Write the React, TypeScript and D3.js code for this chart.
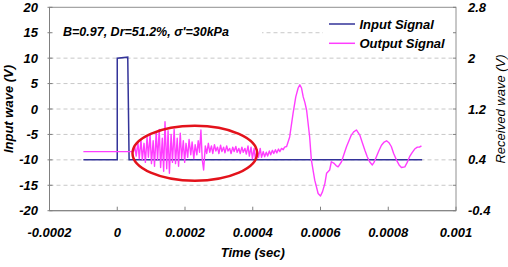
import * as d3 from 'd3';
import { useEffect, useRef } from 'react';

const timeTicks = [-0.0002, 0, 0.0002, 0.0004, 0.0006, 0.0008, 0.001];
const inputTicks = [-20, -15, -10, -5, 0, 5, 10, 15, 20];
const receivedTicks = [-0.4, 0.4, 1.2, 2, 2.8];
const receivedMinorTicks = [0, 0.8, 1.6, 2.4];

// input pulse: [time in microseconds, volts on the left axis]
const inputSamples: [number, number][] = [
  [-100, -10], [0, -10], [0, 10], [31, 10.2], [35, -10], [900, -10]
];

// received signal: [time in microseconds, volts on the right axis]
const outputSamples: [number, number][] = [
  [-100, 0.53], [48, 0.53],
  [52, 0.6], [56, 0.46], [61, 0.68], [65, 0.42], [70, 0.72], [74, 0.4], [79, 0.66], [83, 0.36],
  [88, 0.76], [92, 0.44], [97, 0.8], [101, 0.34], [106, 0.7], [110, 0.3], [115, 0.84], [119, 0.4],
  [124, 0.88], [128, 0.28], [133, 0.74], [137, 0.22], [141, 1.0], [146, 0.26], [150, 0.86],
  [154, 0.19], [159, 0.8], [163, 0.36], [168, 0.88], [172, 0.34], [177, 0.74], [181, 0.3],
  [186, 0.82], [190, 0.42], [195, 0.7], [199, 0.36], [203, 0.66], [208, 0.44], [212, 0.72],
  [217, 0.48], [221, 0.68], [226, 0.42], [230, 0.64], [235, 0.48], [239, 0.7], [243, 0.52],
  [247, 0.87], [251, 0.4], [255, 0.24], [260, 0.62], [264, 0.5], [269, 0.66], [273, 0.52],
  [278, 0.62], [282, 0.5], [287, 0.64], [291, 0.54], [296, 0.6], [300, 0.5], [305, 0.63],
  [309, 0.53], [314, 0.6], [318, 0.51], [323, 0.62], [327, 0.54], [332, 0.58], [336, 0.5],
  [341, 0.6], [345, 0.53], [350, 0.61], [354, 0.52], [359, 0.58], [363, 0.5], [368, 0.6],
  [372, 0.52], [377, 0.58], [381, 0.49], [386, 0.62], [390, 0.46], [395, 0.6], [399, 0.42],
  [404, 0.58], [408, 0.4], [413, 0.56], [417, 0.44], [422, 0.58], [426, 0.44], [431, 0.53],
  [435, 0.45], [440, 0.52], [444, 0.46], [449, 0.54], [453, 0.48], [458, 0.55], [462, 0.5],
  [467, 0.56], [471, 0.51], [476, 0.57], [480, 0.53], [485, 0.58], [490, 0.56], [494, 0.6],
  [500, 0.61], [509, 0.76], [519, 1.13], [527, 1.39], [534, 1.53], [539, 1.58], [544, 1.53],
  [549, 1.39], [554, 1.3], [559, 1.18], [568, 0.76], [573, 0.4], [583, 0.08], [593, -0.13],
  [600, -0.17], [606, -0.1], [613, 0.03], [618, 0.19], [627, 0.24], [632, 0.37], [639, 0.35],
  [646, 0.31], [652, 0.29], [662, 0.37], [670, 0.5], [677, 0.61], [684, 0.7], [691, 0.79],
  [698, 0.84], [706, 0.87], [716, 0.79], [724, 0.66], [731, 0.55], [738, 0.45], [745, 0.37],
  [753, 0.32], [758, 0.36], [765, 0.45], [772, 0.54], [780, 0.63], [788, 0.68], [795, 0.7],
  [802, 0.67], [809, 0.61], [816, 0.5], [824, 0.4], [832, 0.32], [839, 0.28], [849, 0.29],
  [856, 0.36], [863, 0.45], [870, 0.51], [878, 0.57], [886, 0.6], [892, 0.6], [898, 0.62]
];

// highlighted burst: time span in microseconds, left-axis volts
const burstTimeUs = [45, 413];
const burstVolts = [-14.1, -3.3];

const noteText = "B=0.97, Dr=51.2%, σ'=30kPa";
const seriesNames = ['Input Signal', 'Output Signal'];

const width = 508;
const height = 267;
const plot = { left: 49.5, right: 456, top: 7.3, bottom: 210.7 };
const font = '"Liberation Sans", Arial, sans-serif';
const inputColor = '#333399';
const outputColor = '#ff3dff';
const axisColor = '#808080';

export default function App() {
  const svgRef = useRef<SVGSVGElement>(null);

  useEffect(() => {
    const svg = d3.select(svgRef.current!);
    svg.selectAll('*').remove();

    const x = d3.scaleLinear().domain([-0.0002, 0.001]).range([plot.left, plot.right]);
    const yLeft = d3.scaleLinear().domain([-20, 20]).range([plot.bottom, plot.top]);
    const yRight = d3.scaleLinear().domain([-0.4, 2.8]).range([plot.bottom, plot.top]);

    const label = (
      g: d3.Selection<any, any, any, any>,
      size = 13,
      weight = 'bold'
    ) =>
      g
        .attr('font-family', font)
        .attr('font-size', size)
        .attr('font-weight', weight)
        .attr('font-style', 'italic')
        .attr('fill', '#000');

    svg.append('rect').attr('width', width).attr('height', height).attr('fill', '#fff');

    // dashed horizontal gridlines
    svg
      .append('g')
      .selectAll('line')
      .data(inputTicks.filter((v) => v > -20 && v < 20))
      .enter()
      .append('line')
      .attr('x1', plot.left)
      .attr('x2', plot.right)
      .attr('y1', (v) => yLeft(v))
      .attr('y2', (v) => yLeft(v))
      .attr('stroke', '#c8c8c8')
      .attr('stroke-width', 1)
      .attr('stroke-dasharray', '4,3');

    // plot frame
    svg
      .append('rect')
      .attr('x', plot.left)
      .attr('y', plot.top)
      .attr('width', plot.right - plot.left)
      .attr('height', plot.bottom - plot.top)
      .attr('fill', 'none')
      .attr('stroke', '#909090')
      .attr('stroke-width', 1);

    // white boxes behind the note and the legend
    svg
      .append('rect')
      .attr('x', plot.left + 1)
      .attr('y', 20)
      .attr('width', 262 - plot.left - 1)
      .attr('height', 26)
      .attr('fill', '#fff');
    svg
      .append('rect')
      .attr('x', 323)
      .attr('y', plot.top + 1)
      .attr('width', plot.right - 323 - 1)
      .attr('height', 46)
      .attr('fill', '#fff');

    // left axis
    const leftAxis = svg.append('g');
    leftAxis
      .append('line')
      .attr('x1', plot.left)
      .attr('x2', plot.left)
      .attr('y1', plot.top)
      .attr('y2', plot.bottom)
      .attr('stroke', axisColor);
    leftAxis
      .selectAll('.tick')
      .data(inputTicks)
      .enter()
      .append('line')
      .attr('x1', plot.left - 2)
      .attr('x2', plot.left + 3)
      .attr('y1', (v) => yLeft(v))
      .attr('y2', (v) => yLeft(v))
      .attr('stroke', axisColor);
    label(
      leftAxis
        .selectAll('text')
        .data(inputTicks)
        .enter()
        .append('text')
        .attr('x', 38)
        .attr('y', (v) => yLeft(v) + 4.6)
        .attr('text-anchor', 'end')
        .text((v) => String(v))
    );

    // bottom axis
    const bottomAxis = svg.append('g');
    bottomAxis
      .append('line')
      .attr('x1', plot.left)
      .attr('x2', plot.right)
      .attr('y1', plot.bottom)
      .attr('y2', plot.bottom)
      .attr('stroke', axisColor);
    bottomAxis
      .selectAll('.tick')
      .data(timeTicks)
      .enter()
      .append('line')
      .attr('x1', (t) => x(t))
      .attr('x2', (t) => x(t))
      .attr('y1', plot.bottom)
      .attr('y2', plot.bottom - 4)
      .attr('stroke', axisColor);
    label(
      bottomAxis
        .selectAll('text')
        .data(timeTicks)
        .enter()
        .append('text')
        .attr('x', (t) => x(t))
        .attr('y', 237)
        .attr('text-anchor', 'middle')
        .text((t) => String(t))
    );

    // right axis
    const rightAxis = svg.append('g');
    rightAxis
      .selectAll('.tick')
      .data([...receivedTicks, ...receivedMinorTicks])
      .enter()
      .append('line')
      .attr('x1', plot.right)
      .attr('x2', plot.right - 3)
      .attr('y1', (v) => yRight(v))
      .attr('y2', (v) => yRight(v))
      .attr('stroke', axisColor);
    label(
      rightAxis
        .selectAll('text')
        .data(receivedTicks)
        .enter()
        .append('text')
        .attr('x', 468)
        .attr('y', (v) => yRight(v) + 4.6)
        .text((v) => String(v))
    );

    // axis titles
    label(
      svg
        .append('text')
        .attr('transform', `translate(12.5, ${(plot.top + plot.bottom) / 2}) rotate(-90)`)
        .attr('text-anchor', 'middle')
        .text('Input wave (V)')
    );
    label(
      svg
        .append('text')
        .attr('transform', `translate(504.5, ${(plot.top + plot.bottom) / 2}) rotate(-90)`)
        .attr('text-anchor', 'middle')
        .text('Received wave (V)'),
      13,
      'normal'
    );
    label(
      svg
        .append('text')
        .attr('x', (plot.left + plot.right) / 2)
        .attr('y', 256.5)
        .attr('text-anchor', 'middle')
        .text('Time (sec)')
    );

    // series
    const inputLine = d3
      .line<[number, number]>()
      .x((d) => x(d[0] * 1e-6))
      .y((d) => yLeft(d[1]));
    const outputLine = d3
      .line<[number, number]>()
      .x((d) => x(d[0] * 1e-6))
      .y((d) => yRight(d[1]));

    svg
      .append('path')
      .attr('d', inputLine(inputSamples))
      .attr('fill', 'none')
      .attr('stroke', inputColor)
      .attr('stroke-width', 1.5);
    svg
      .append('path')
      .attr('d', outputLine(outputSamples))
      .attr('fill', 'none')
      .attr('stroke', outputColor)
      .attr('stroke-width', 1.4)
      .attr('stroke-linejoin', 'round');

    // red ellipse around the early burst
    const ex0 = x(burstTimeUs[0] * 1e-6);
    const ex1 = x(burstTimeUs[1] * 1e-6);
    const ey0 = yLeft(burstVolts[1]);
    const ey1 = yLeft(burstVolts[0]);
    svg
      .append('ellipse')
      .attr('cx', (ex0 + ex1) / 2)
      .attr('cy', (ey0 + ey1) / 2)
      .attr('rx', (ex1 - ex0) / 2)
      .attr('ry', (ey1 - ey0) / 2)
      .attr('fill', 'none')
      .attr('stroke', '#e3121b')
      .attr('stroke-width', 2.5);

    // note
    label(svg.append('text').attr('x', 63).attr('y', 36.3).text(noteText), 12.5);

    // legend
    const legend = svg
      .append('g')
      .selectAll('g')
      .data(seriesNames)
      .enter()
      .append('g')
      .attr('transform', (_, i) => `translate(329, ${24 + i * 19.3})`);
    legend
      .append('line')
      .attr('x2', 26)
      .attr('stroke', (_, i) => (i === 0 ? inputColor : outputColor))
      .attr('stroke-width', 1.5);
    label(
      legend
        .append('text')
        .attr('x', 30.5)
        .attr('y', 4.6)
        .text((d) => d)
    );
  }, []);

  return (
    <svg
      ref={svgRef}
      width={width}
      height={height}
      style={{ position: 'fixed', left: 0, top: 0 }}
    />
  );
}
